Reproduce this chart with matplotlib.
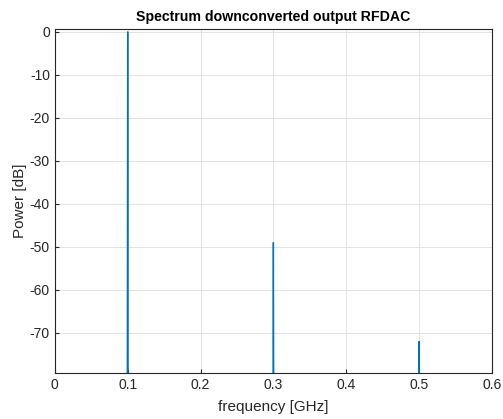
import matplotlib.pyplot as plt

plt.rcParams['font.family'] = ['Liberation Sans', 'DejaVu Sans']
plt.rcParams['axes.unicode_minus'] = False

# spectrum samples around the tones (noise floor sits far below the view)
freq = [0.0, 0.0990, 0.0995, 0.1000, 0.1005, 0.1010,
        0.2990, 0.3000, 0.3010,
        0.4990, 0.5000, 0.5010, 0.6]
power = [-130, -130, -78, 0.0, -76, -130,
         -130, -49.0, -130,
         -130, -72.0, -130, -130]

fig, ax = plt.subplots(figsize=(5.03, 4.19), dpi=100)
fig.subplots_adjust(left=0.109, right=0.978, top=0.931, bottom=0.11)

ax.plot(freq, power, color='#0072BD', linewidth=1.0)

ax.set_xlim(0, 0.6)
ax.set_ylim(-79.3, 0.7)
ax.set_xticks([0, 0.1, 0.2, 0.3, 0.4, 0.5, 0.6])
ax.set_xticklabels(['0', '0.1', '0.2', '0.3', '0.4', '0.5', '0.6'])
ax.set_yticks([0, -10, -20, -30, -40, -50, -60, -70])

ax.grid(True, color='#e3e3e3', linewidth=0.7)
ax.set_axisbelow(True)
ax.tick_params(direction='in', length=3, labelsize=10, colors='#262626')
for s in ax.spines.values():
    s.set_color('#262626')
    s.set_linewidth(0.8)

ax.set_xlabel('frequency [GHz]', fontsize=11, color='#262626', labelpad=6)
ax.set_ylabel('Power [dB]', fontsize=11, color='#262626', labelpad=2)
ax.set_title('Spectrum downconverted output RFDAC', fontsize=10.2, fontweight='bold')

fig.savefig('out.png', dpi=100)
